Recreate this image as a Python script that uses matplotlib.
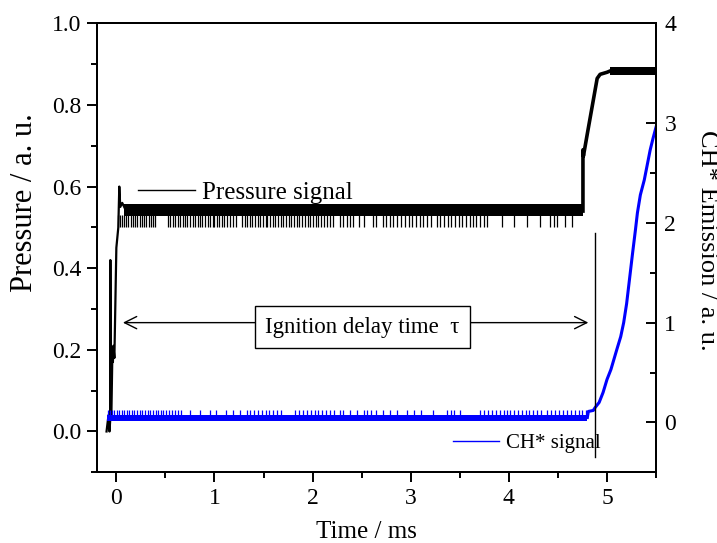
import matplotlib
matplotlib.use('Agg')
import matplotlib.pyplot as plt
from matplotlib.lines import Line2D
from matplotlib.ticker import MultipleLocator

plt.rcParams['font.family'] = ['Liberation Serif', 'DejaVu Serif']

# pressure trace (left axis)
press_t = [-0.10, -0.08, -0.07, -0.062, -0.061, -0.058, -0.05, -0.04, -0.035, -0.03, -0.02,
           0.00, 0.02, 0.03, 0.04, 0.06, 0.10]
press_p = [0.00, 0.04, 0.00, 0.03, 0.42, 0.04, 0.05, 0.20, 0.17, 0.21, 0.18,
           0.45, 0.50, 0.60, 0.55, 0.56, 0.54]
# plateau before ignition (held value shown as a band)
plat1_t = [0.08, 4.755]
plat1_lo = [0.527, 0.527]
plat1_hi = [0.558, 0.558]
# dropouts on the plateau
drop_t = [0.02, 0.04, 0.06, 0.08, 0.10, 0.12, 0.15, 0.17, 0.19, 0.21, 0.24, 0.26, 0.28,
          0.30, 0.33, 0.35, 0.37, 0.39,
          0.53, 0.55, 0.58, 0.60, 0.63, 0.65, 0.68, 0.70, 0.72, 0.75, 0.78, 0.80, 0.83,
          0.85, 0.87, 0.90, 0.93, 0.95, 0.98, 1.00, 1.03, 1.05, 1.08, 1.10, 1.13, 1.16,
          1.19, 1.22,
          1.28, 1.31, 1.33, 1.36, 1.38, 1.41, 1.44, 1.46, 1.49, 1.52, 1.54, 1.57, 1.60,
          1.62, 1.65, 1.68, 1.70, 1.73, 1.76, 1.78, 1.81, 1.84, 1.86, 1.89, 1.92, 1.95,
          1.97, 2.00, 2.03, 2.06, 2.09, 2.12, 2.15, 2.18, 2.21,
          2.28, 2.31, 2.35, 2.38, 2.41, 2.47, 2.52, 2.62, 2.65, 2.72, 2.75,
          2.79, 2.82, 2.86, 2.90, 2.94, 2.98, 3.01, 3.05, 3.09, 3.13, 3.17, 3.21,
          3.27, 3.30, 3.34, 3.38, 3.41, 3.45, 3.49, 3.52, 3.56, 3.60, 3.63, 3.67, 3.71,
          3.75, 3.78, 3.93, 4.05, 4.18, 4.32, 4.42, 4.46, 4.49, 4.57, 4.64]
# pressure rise after ignition
rise_t = [4.755, 4.755, 4.76, 4.80, 4.90, 4.93, 5.00, 5.03]
rise_p = [0.54, 0.69, 0.675, 0.73, 0.865, 0.875, 0.88, 0.883]
plat2_t = [5.03, 5.50]
plat2_lo = [0.873, 0.873]
plat2_hi = [0.894, 0.894]

# CH* emission (right axis)
ch_base_t = [-0.10, 4.80]
ch_base_lo = [0.01, 0.01]
ch_base_hi = [0.075, 0.075]
ch_spike_t = [-0.09, -0.06, -0.04, -0.02, 0.01, 0.03, 0.06, 0.08, 0.11, 0.13, 0.16, 0.18,
              0.21, 0.24, 0.26, 0.29, 0.32, 0.34, 0.37, 0.40, 0.42, 0.45, 0.48, 0.51, 0.54,
              0.57, 0.60, 0.63, 0.66, 0.75, 0.85, 0.95, 1.02, 1.12, 1.19, 1.26,
              1.33, 1.36, 1.40, 1.44, 1.48, 1.52, 1.56, 1.60, 1.64, 1.68,
              1.82, 1.86, 1.90, 1.94, 1.98, 2.02, 2.06, 2.10, 2.14, 2.18, 2.22, 2.28,
              2.31, 2.38, 2.45, 2.52, 2.55, 2.60, 2.65, 2.72, 2.79, 2.86, 2.96, 3.03,
              3.10, 3.23, 3.37, 3.41, 3.44, 3.50, 3.71, 3.75, 3.79, 3.83, 3.87, 3.91,
              3.95, 3.98, 4.01, 4.05, 4.09, 4.13, 4.17, 4.21, 4.25, 4.29, 4.33,
              4.39, 4.43, 4.47, 4.51, 4.55, 4.59, 4.63, 4.67, 4.71, 4.75, 4.79]
ch_t = [4.80, 4.81, 4.86, 4.88, 4.92, 4.96, 5.00, 5.04, 5.07, 5.10, 5.14, 5.17, 5.20,
        5.23, 5.26, 5.29, 5.31, 5.34, 5.38, 5.41, 5.44, 5.47, 5.50]
ch_v = [0.05, 0.11, 0.12, 0.15, 0.20, 0.30, 0.43, 0.53, 0.63, 0.73, 0.86, 1.00, 1.19,
        1.44, 1.69, 1.93, 2.10, 2.28, 2.43, 2.58, 2.73, 2.85, 2.96]

# annotation positions
tau_start, tau_end, tau_level = 0.067, 4.81, 1.0
marker_t, marker_lo, marker_hi = 4.88, -0.35, 1.9

fig = plt.figure(figsize=(7.17, 5.43), dpi=100)
ax = fig.add_axes([0.1349, 0.1302, 0.7801, 0.8269])
ax2 = ax.twinx()

# pressure
ax.plot(press_t, press_p, color='k', lw=1.6)
ax.fill_between(plat1_t, plat1_lo, plat1_hi, color='k', lw=0)
ax.vlines(drop_t, 0.50, 0.53, color='k', lw=0.9)
ax.plot(rise_t, rise_p, color='k', lw=2.6)
ax.fill_between(plat2_t, plat2_lo, plat2_hi, color='k', lw=0)

# CH*
ax2.fill_between(ch_base_t, ch_base_lo, ch_base_hi, color='#0000FF', lw=0)
ax2.vlines(ch_spike_t, 0.03, 0.12, color='#0000FF', lw=0.9)
ax2.plot(ch_t, ch_v, color='#0000FF', lw=2.2)

# ignition delay marker
ax2.plot([marker_t, marker_t], [marker_lo, marker_hi], color='k', lw=1.0)
ax2.annotate('', xy=(tau_start, tau_level), xytext=(tau_end, tau_level),
             arrowprops=dict(arrowstyle='<->', color='k', lw=1.0, mutation_scale=22,
                             shrinkA=0, shrinkB=0))
ax2.text((tau_start + tau_end) / 2 + 0.07, tau_level - 0.045, 'Ignition delay time  τ',
         fontsize=16.5, ha='center', va='center',
         bbox=dict(boxstyle='square,pad=0.45', fc='white', ec='k', lw=1.0))

ax.set_xlim(-0.2, 5.5)
ax.set_ylim(-0.1, 1.0)
ax2.set_ylim(-0.5, 4.0)

ax.xaxis.set_major_locator(MultipleLocator(1))
ax.xaxis.set_minor_locator(MultipleLocator(0.5))
ax.yaxis.set_major_locator(MultipleLocator(0.2))
ax.yaxis.set_minor_locator(MultipleLocator(0.1))
ax2.yaxis.set_major_locator(MultipleLocator(1))
ax2.yaxis.set_minor_locator(MultipleLocator(0.5))

ax.tick_params(which='both', direction='out', width=1.4, labelsize=17, top=False, right=False)
ax.tick_params(which='major', length=7, pad=4)
ax.tick_params(which='minor', length=4)
ax2.tick_params(which='both', direction='in', width=1.4, labelsize=17)
ax2.tick_params(which='major', length=7, pad=6)
ax2.tick_params(which='minor', length=4)
for a in (ax, ax2):
    for s in a.spines.values():
        s.set_linewidth(1.4)

ax.set_xlabel('Time / ms', fontsize=18)
ax.set_ylabel('Pressure / a. u.', fontsize=22, va='center')
ax2.set_ylabel('CH* Emission / a. u.', fontsize=19, rotation=270, va='center')
ax.xaxis.set_label_coords(0.483, -0.108)
ax.yaxis.set_label_coords(-0.129, 0.601)
ax2.yaxis.set_label_coords(1.091, 0.517)

leg1 = ax.legend([Line2D([], [], color='k', lw=1.0)], ['Pressure signal'],
                 loc='center left', bbox_to_anchor=(0.0744, 0.623), frameon=False,
                 fontsize=18, handlelength=2.28, handletextpad=0.27,
                 borderpad=0, borderaxespad=0)
leg2 = ax2.legend([Line2D([], [], color='#0000FF', lw=1.0)], ['CH* signal'],
                  loc='center left', bbox_to_anchor=(0.637, 0.065), frameon=False,
                  fontsize=15, handlelength=2.2, handletextpad=0.33,
                  borderpad=0, borderaxespad=0)

fig.savefig('out.png', dpi=100)
